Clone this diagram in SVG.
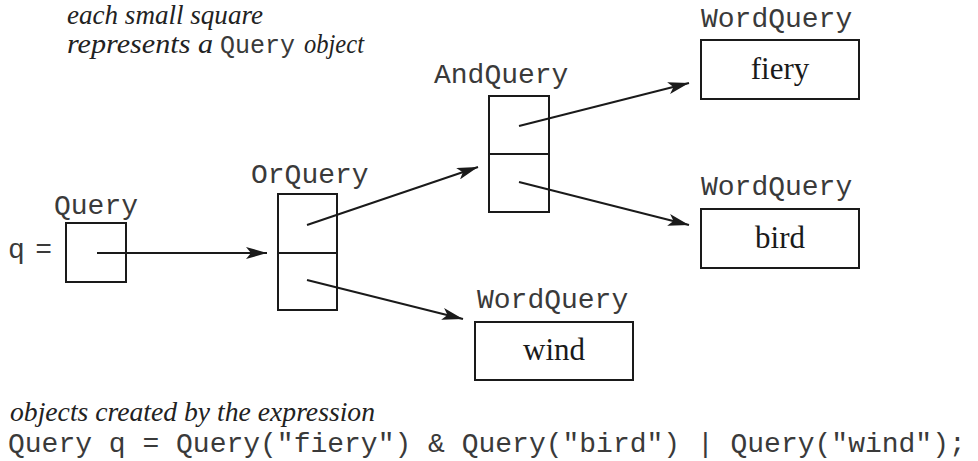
<svg xmlns="http://www.w3.org/2000/svg" width="978" height="461" viewBox="0 0 978 461">
<style>
.box{fill:#fff;stroke:#1a1a1a;stroke-width:2}
.mono{font-family:"Liberation Mono","Courier New",monospace;font-size:28px;fill:#3a3a3a}
.it{font-family:"Liberation Serif","Times New Roman",serif;font-style:italic;font-size:27px;fill:#222}
.word{font-family:"Liberation Serif","Times New Roman",serif;font-size:31px;fill:#1a1a1a;text-anchor:middle}
.conn{stroke:#1a1a1a;stroke-width:2;fill:none;marker-end:url(#ah)}
</style>
<defs>
<marker id="ah" markerUnits="userSpaceOnUse" markerWidth="22" markerHeight="12" refX="21" refY="6" orient="auto">
<path d="M0,0 L21,6 L0,12 L5,6 Z" fill="#1a1a1a"/>
</marker>
</defs>
<rect width="978" height="461" fill="#fff"/>
<g id="caption-top">
<text class="it" x="67" y="24" textLength="196" lengthAdjust="spacingAndGlyphs">each small square</text>
<text class="it" x="67" y="53" textLength="146" lengthAdjust="spacingAndGlyphs">represents a</text>
<text class="mono" x="220" y="53" style="font-size:25px">Query</text>
<text class="it" x="304" y="53" textLength="60" lengthAdjust="spacingAndGlyphs">object</text>
</g>
<g id="query">
<text class="mono" x="54" y="214">Query</text>
<text class="mono" x="8" y="258" textLength="44" lengthAdjust="spacing">q =</text>
<rect class="box" x="66" y="223" width="60" height="59"/>
</g>
<g id="orquery">
<text class="mono" x="251" y="183">OrQuery</text>
<rect class="box" x="278" y="194" width="59" height="116"/>
<line x1="278" y1="253" x2="337" y2="253" stroke="#1a1a1a" stroke-width="2"/>
</g>
<g id="andquery">
<text class="mono" x="434" y="83">AndQuery</text>
<rect class="box" x="489" y="96" width="60" height="116"/>
<line x1="489" y1="154" x2="549" y2="154" stroke="#1a1a1a" stroke-width="2"/>
</g>
<g id="word-fiery">
<text class="mono" x="701" y="27">WordQuery</text>
<rect class="box" x="701" y="40" width="158" height="59"/>
<text class="word" x="780" y="79">fiery</text>
</g>
<g id="word-bird">
<text class="mono" x="701" y="195">WordQuery</text>
<rect class="box" x="701" y="209" width="158" height="59"/>
<text class="word" x="780" y="248">bird</text>
</g>
<g id="word-wind">
<text class="mono" x="477" y="308">WordQuery</text>
<rect class="box" x="475" y="322" width="158" height="58"/>
<text class="word" x="554" y="360">wind</text>
</g>
<g id="connectors">
<line class="conn" x1="97" y1="253" x2="267" y2="253"/>
<line class="conn" x1="307" y1="225" x2="478" y2="167"/>
<line class="conn" x1="307" y1="280" x2="463" y2="319"/>
<line class="conn" x1="519" y1="126" x2="689" y2="83"/>
<line class="conn" x1="519" y1="182" x2="689" y2="225"/>
</g>
<g id="caption-bottom">
<text class="it" x="10" y="421" style="font-size:28px" textLength="365" lengthAdjust="spacingAndGlyphs">objects created by the expression</text>
<text class="mono" x="8" y="452" xml:space="preserve">Query q = Query("fiery") &amp; Query("bird") | Query("wind");</text>
</g>
</svg>
